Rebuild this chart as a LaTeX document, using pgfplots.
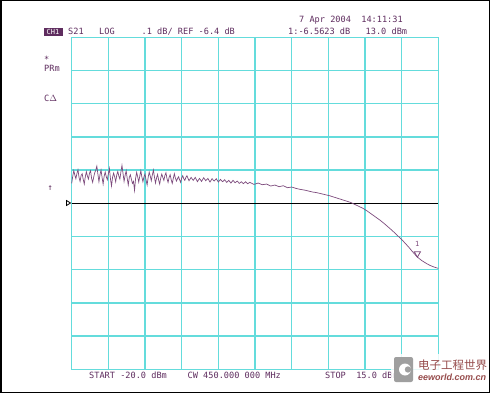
\documentclass[border=0pt]{standalone}
\usepackage{fontspec}
\usepackage{pgfplots}
\pgfplotsset{compat=1.18}
\setmainfont{DejaVu Sans Mono}
\newfontfamily\cjk{Noto Sans CJK SC}
\newfontfamily\sansf{Liberation Sans}
\definecolor{gridc}{RGB}{100,220,220}
\definecolor{txt}{RGB}{95,45,95}
\definecolor{trace}{RGB}{125,75,125}
\definecolor{wm}{RGB}{150,75,75}

\pgfplotstableread{
x y
-20.0 -6.340
-19.9 -6.318
-19.8 -6.302
-19.7 -6.315
-19.6 -6.326
-19.5 -6.310
-19.4 -6.299
-19.3 -6.322
-19.2 -6.334
-19.1 -6.316
-19.0 -6.311
-18.9 -6.328
-18.8 -6.342
-18.7 -6.320
-18.6 -6.305
-18.5 -6.318
-18.4 -6.327
-18.3 -6.309
-18.2 -6.302
-18.1 -6.325
-18.0 -6.337
-17.9 -6.321
-17.8 -6.308
-17.7 -6.300
-17.6 -6.288
-17.5 -6.312
-17.4 -6.335
-17.3 -6.314
-17.2 -6.300
-17.1 -6.322
-17.0 -6.342
-16.9 -6.318
-16.8 -6.306
-16.7 -6.320
-16.6 -6.329
-16.5 -6.311
-16.4 -6.295
-16.3 -6.326
-16.2 -6.348
-16.1 -6.322
-16.0 -6.309
-15.9 -6.320
-15.8 -6.335
-15.7 -6.315
-15.6 -6.304
-15.5 -6.318
-15.4 -6.327
-15.3 -6.305
-15.2 -6.286
-15.1 -6.310
-15.0 -6.334
-14.9 -6.316
-14.8 -6.302
-14.7 -6.325
-14.6 -6.345
-14.5 -6.322
-14.4 -6.314
-14.3 -6.328
-14.2 -6.340
-14.1 -6.334
-14.0 -6.361
-13.9 -6.325
-13.8 -6.307
-13.7 -6.320
-13.6 -6.336
-13.5 -6.318
-13.4 -6.302
-13.3 -6.321
-13.2 -6.335
-13.1 -6.320
-13.0 -6.312
-12.9 -6.330
-12.8 -6.345
-12.7 -6.322
-12.6 -6.306
-12.5 -6.318
-12.4 -6.332
-12.3 -6.314
-12.2 -6.300
-12.1 -6.321
-12.0 -6.339
-11.9 -6.324
-11.8 -6.313
-11.7 -6.330
-11.6 -6.342
-11.5 -6.324
-11.4 -6.312
-11.3 -6.322
-11.2 -6.331
-11.1 -6.316
-11.0 -6.308
-10.9 -6.326
-10.8 -6.337
-10.7 -6.322
-10.6 -6.314
-10.5 -6.329
-10.4 -6.340
-10.3 -6.325
-10.2 -6.311
-10.1 -6.324
-10.0 -6.333
-9.9 -6.326
-9.8 -6.320
-9.7 -6.329
-9.6 -6.337
-9.5 -6.324
-9.4 -6.317
-9.3 -6.326
-9.2 -6.331
-9.1 -6.322
-9.0 -6.317
-8.8 -6.332
-8.6 -6.322
-8.4 -6.331
-8.2 -6.322
-8.0 -6.335
-7.8 -6.325
-7.6 -6.334
-7.4 -6.323
-7.2 -6.332
-7.0 -6.325
-6.8 -6.336
-6.6 -6.326
-6.4 -6.333
-6.2 -6.326
-6.0 -6.336
-5.8 -6.328
-5.6 -6.335
-5.4 -6.329
-5.2 -6.337
-5.0 -6.331
-4.8 -6.339
-4.6 -6.331
-4.4 -6.338
-4.2 -6.333
-4.0 -6.340
-3.8 -6.335
-3.6 -6.341
-3.4 -6.335
-3.2 -6.341
-3.0 -6.337
-2.6 -6.343
-2.2 -6.339
-1.8 -6.344
-1.4 -6.342
-1.0 -6.348
-0.6 -6.345
-0.2 -6.350
0.2 -6.347
0.6 -6.353
1.0 -6.351
1.4 -6.355
1.8 -6.358
2.2 -6.360
2.6 -6.363
3.0 -6.366
3.4 -6.368
3.8 -6.371
4.2 -6.374
4.6 -6.377
5.0 -6.381
5.4 -6.385
5.8 -6.389
6.2 -6.393
6.6 -6.397
7.0 -6.403
7.4 -6.409
7.8 -6.415
8.2 -6.423
8.6 -6.432
9.0 -6.441
9.4 -6.450
9.8 -6.460
10.2 -6.471
10.6 -6.482
11.0 -6.494
11.4 -6.506
11.8 -6.519
12.2 -6.533
12.6 -6.548
13.0 -6.562
13.4 -6.572
13.8 -6.580
14.2 -6.587
14.6 -6.592
15.0 -6.596
}\trace

\begin{document}
\begin{tikzpicture}[x=1pt,y=1pt,
  lab/.style={anchor=base west, inner sep=0pt, text=txt, font=\fontsize{8.6}{10}\selectfont}]
\path[use as bounding box] (0,0) rectangle (490,-393);
\fill[white] (0,0) rectangle (490,-393);
\begin{axis}[scale only axis, width=366.6pt, height=332pt,
  at={(71.7pt,-369.3pt)}, anchor=south west,
  xmin=-20, xmax=15, ymin=-6.9, ymax=-5.9,
  xtick={-20,-16.5,-13,-9.5,-6,-2.5,1,4.5,8,11.5,15},
  ytick={-6.9,-6.8,-6.7,-6.6,-6.5,-6.4,-6.3,-6.2,-6.1,-6.0,-5.9},
  xticklabels={}, yticklabels={},
  major tick length=0pt,
  grid=major,
  major grid style={gridc, line width=1.5pt},
  axis line style={gridc, line width=1.5pt},
  clip=false]
\addplot[black, line width=1pt] coordinates {(-20,-6.4) (15,-6.4)};
\addplot[trace, line width=0.7pt, mark=none] table[x=x,y=y] {\trace};
\addplot[trace, only marks, mark=triangle, mark size=3.6pt,
  mark options={yshift=3.6pt, rotate=180, line width=0.8pt}] coordinates {(13,-6.5623)};
\node[text=trace, inner sep=0pt, font=\fontsize{7}{7}\selectfont] at (axis cs:13,-6.5623) [yshift=13pt] {1};
\end{axis}
% header texts
\node[lab] at (299,-23) {7 Apr 2004\ \ 14:11:31};
\fill[txt] (43.5,-28) rectangle (62.5,-36);
\node[anchor=base, inner sep=0pt, text=white, font=\fontsize{7}{8}\selectfont] at (53,-34.7) {CH1};
\node[lab] at (68,-35) {S21};
\node[lab] at (99,-35) {LOG};
\node[lab] at (141.5,-35) {.1 dB/ REF -6.4 dB};
\node[lab] at (288,-35) {1:-6.5623 dB};
\node[lab] at (365.5,-35) {13.0 dBm};
% left annotations
\node[lab] at (44,-63) {*};
\node[lab] at (44,-72) {PRm};
\node[lab] at (44,-102) {C\(\Delta\)};
\node[lab] at (47.5,-190) {↑};
\draw[black, line width=0.8pt] (66.5,-200.5) -- (70.5,-203) -- (66.5,-205.5) -- cycle;
% bottom texts
\node[lab] at (89,-378) {START -20.0 dBm};
\node[lab] at (187.5,-378) {CW 450.000 000 MHz};
\node[lab] at (325,-378) {STOP\ \ 15.0 dBm};
% watermark
\fill[white, opacity=0.85] (391,-354) rectangle (489,-392);
\fill[gray!75, rounded corners=2pt] (394,-357) rectangle (413,-382);
\fill[white] (405,-369.5) circle (6);
\fill[gray!75] (408,-369.5) circle (3.2);
\node[anchor=base west, inner sep=0pt, text=wm, font=\cjk\fontsize{11.5}{12}\selectfont] at (418,-369) {电子工程世界};
\node[anchor=base west, inner sep=0pt, text=wm, font=\sansf\bfseries\itshape\fontsize{9}{10}\selectfont] at (418,-380) {eeworld.com.cn};
% outer frame
\draw[black, line width=1.5pt] (0.75,-0.75) rectangle (489.25,-392.25);
\end{tikzpicture}
\end{document}
